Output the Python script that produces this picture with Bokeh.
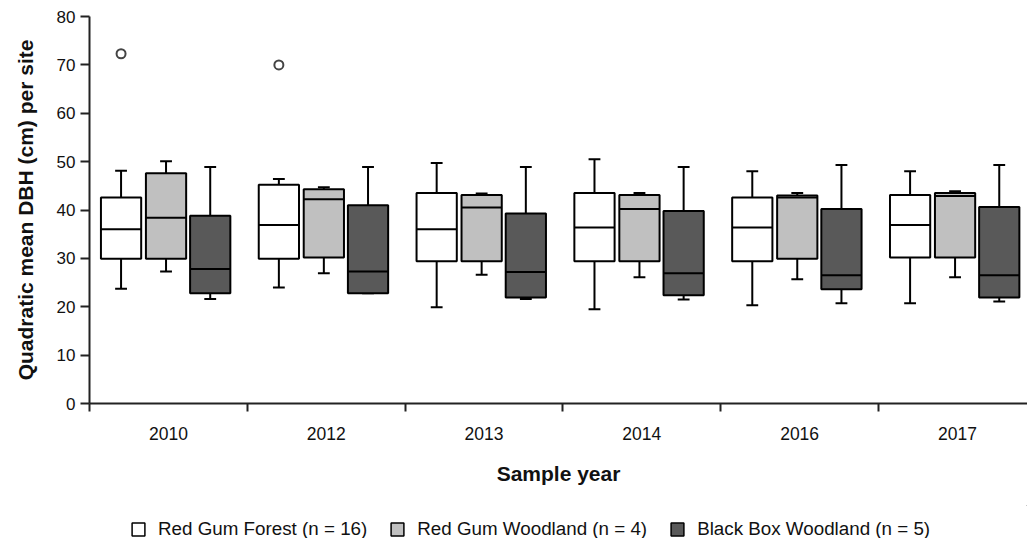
from bokeh.plotting import figure
from bokeh.models import Range1d, FixedTicker, Legend, LegendItem, ColumnDataSource
from bokeh.layouts import column
from bokeh.embed import file_html
from bokeh.resources import INLINE

years = ["2010", "2012", "2013", "2014", "2016", "2017"]
series_names = ["Red Gum Forest (n = 16)", "Red Gum Woodland (n = 4)", "Black Box Woodland (n = 5)"]

# Red Gum Forest
rgf_low = [23.7, 24.0, 19.9, 19.5, 20.3, 20.7]
rgf_q1 = [29.9, 29.9, 29.4, 29.4, 29.4, 30.2]
rgf_med = [36.0, 36.9, 36.0, 36.4, 36.4, 36.9]
rgf_q3 = [42.6, 45.2, 43.5, 43.5, 42.6, 43.1]
rgf_high = [48.1, 46.4, 49.7, 50.5, 48.0, 48.0]

# Red Gum Woodland
rgw_low = [27.3, 26.9, 26.6, 26.1, 25.7, 26.1]
rgw_q1 = [29.9, 30.2, 29.4, 29.4, 29.9, 30.2]
rgw_med = [38.4, 42.2, 40.5, 40.2, 42.6, 42.9]
rgw_q3 = [47.6, 44.3, 43.1, 43.1, 43.0, 43.5]
rgw_high = [50.1, 44.7, 43.4, 43.5, 43.5, 43.9]

# Black Box Woodland
bbw_low = [21.6, 22.8, 21.6, 21.5, 20.7, 21.1]
bbw_q1 = [22.8, 22.8, 21.9, 22.4, 23.6, 21.9]
bbw_med = [27.8, 27.3, 27.2, 26.9, 26.5, 26.5]
bbw_q3 = [38.8, 41.0, 39.3, 39.8, 40.2, 40.6]
bbw_high = [48.9, 48.9, 48.9, 48.9, 49.3, 49.3]

# Outliers (Red Gum Forest)
outlier_year = ["2010", "2012"]
outlier_val = [72.3, 70.0]

y_ticks = [0, 10, 20, 30, 40, 50, 60, 70, 80]

fills = ["#ffffff", "#c0c0c0", "#595959"]
offsets = [0.200, 0.485, 0.765]
box_w = 0.255
cap_w = 0.075
FONT = "Liberation Sans"

series = [
    (rgf_low, rgf_q1, rgf_med, rgf_q3, rgf_high),
    (rgw_low, rgw_q1, rgw_med, rgw_q3, rgw_high),
    (bbw_low, bbw_q1, bbw_med, bbw_q3, bbw_high),
]

n = len(years)
p = figure(width=1027, height=505,
           x_range=Range1d(0, 5.944), y_range=Range1d(0, 80),
           output_backend="svg", toolbar_location=None,
           min_border_left=89, min_border_right=0, min_border_top=16, min_border_bottom=102)
p.outline_line_color = None
p.xgrid.visible = False
p.ygrid.visible = False
p.background_fill_color = "white"

for k, (lo, q1, med, q3, hi) in enumerate(series):
    xs = [i + offsets[k] for i in range(n)]
    p.segment(x0=xs, y0=q3, x1=xs, y1=hi, line_color="black", line_width=2)
    p.segment(x0=xs, y0=q1, x1=xs, y1=lo, line_color="black", line_width=2)
    p.segment(x0=[x - cap_w / 2 for x in xs], y0=hi, x1=[x + cap_w / 2 for x in xs], y1=hi,
              line_color="black", line_width=2)
    p.segment(x0=[x - cap_w / 2 for x in xs], y0=lo, x1=[x + cap_w / 2 for x in xs], y1=lo,
              line_color="black", line_width=2)
    p.vbar(x=xs, width=box_w, top=q3, bottom=q1, fill_color=fills[k],
           line_color="black", line_width=2)
    p.segment(x0=[x - box_w / 2 for x in xs], y0=med, x1=[x + box_w / 2 for x in xs], y1=med,
              line_color="black", line_width=2)

ox = [years.index(y) + offsets[0] for y in outlier_year]
p.scatter(x=ox, y=outlier_val, size=9, marker="circle", fill_color="white",
          line_color="#444444", line_width=2)

xa = p.xaxis[0]
xa.ticker = FixedTicker(ticks=[i + 0.5 for i in range(n)], minor_ticks=list(range(n + 1)))
xa.major_label_overrides = {i + 0.5: years[i] for i in range(n)}
xa.major_tick_line_color = None
xa.major_tick_out = 0
xa.major_tick_in = 0
xa.minor_tick_out = 8
xa.minor_tick_in = 0
xa.minor_tick_line_width = 2
xa.minor_tick_line_color = "#222222"
xa.axis_line_width = 2
xa.axis_line_color = "#222222"
xa.major_label_text_font = FONT
xa.major_label_text_font_size = "17.5px"
xa.major_label_text_color = "#111111"
xa.major_label_standoff = 15
xa.axis_label = "Sample year"
xa.axis_label_text_font = FONT
xa.axis_label_text_font_style = "bold"
xa.axis_label_text_font_size = "21px"
xa.axis_label_text_color = "#111111"
xa.axis_label_standoff = 19

ya = p.yaxis[0]
ya.ticker = FixedTicker(ticks=y_ticks, minor_ticks=[])
ya.major_tick_out = 9
ya.major_tick_in = 0
ya.major_tick_line_width = 2
ya.major_tick_line_color = "#222222"
ya.axis_line_width = 2
ya.axis_line_color = "#222222"
ya.major_label_text_font = FONT
ya.major_label_text_font_size = "17px"
ya.major_label_text_color = "#111111"
ya.major_label_standoff = 5
ya.axis_label = "Quadratic mean DBH (cm) per site"
ya.axis_label_text_font = FONT
ya.axis_label_text_font_style = "bold"
ya.axis_label_text_font_size = "21px"
ya.axis_label_text_color = "#111111"
ya.axis_label_standoff = 17

# Legend strip below the chart (dummy swatch renderers lie outside its visible range)
lf = figure(width=1027, height=33, x_range=Range1d(0, 1), y_range=Range1d(0, 1),
            x_axis_location=None, y_axis_location=None,
            output_backend="svg", toolbar_location=None,
            min_border_left=0, min_border_right=0, min_border_top=0, min_border_bottom=0)
lf.outline_line_color = None
lf.xgrid.visible = False
lf.ygrid.visible = False
items = []
for k in range(3):
    src = ColumnDataSource(data=dict(x=[5.0], top=[5.0], bottom=[4.0]))
    r = lf.vbar(x="x", top="top", bottom="bottom", width=0.1, source=src,
                fill_color=fills[k], line_color="black", line_width=1.5)
    items.append(LegendItem(label=series_names[k], renderers=[r]))
legend = Legend(items=items, location=(41, -2), orientation="horizontal",
                glyph_width=16, glyph_height=16, label_standoff=12, spacing=22,
                padding=0, margin=0, border_line_color=None, background_fill_alpha=0,
                label_text_font=FONT, label_text_font_size="18.8px", label_text_color="#111111")
lf.add_layout(legend)

layout = column(p, lf, spacing=0)
open("out.html", "w").write(file_html(layout, INLINE))
